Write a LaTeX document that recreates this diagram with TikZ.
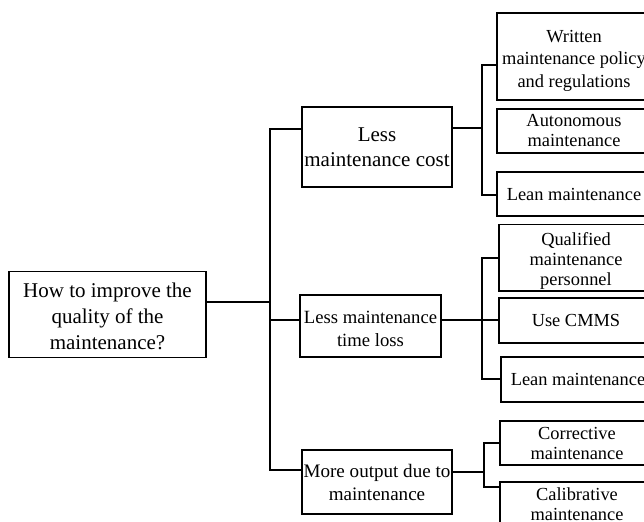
\documentclass[tikz,border=0pt]{standalone}
\usepackage{fontspec}
\setmainfont{Liberation Serif}
\newcommand{\upstrut}[1]{\rule{0pt}{#1}}
\begin{document}
\begin{tikzpicture}[x=0.75pt,y=-0.75pt,
  box/.style={draw,line width=1pt,inner sep=0pt,align=center},
  leaf/.style={box,minimum width=115.5pt,font={\fontsize{13.8}{15}\selectfont}},
  conn/.style={line width=1.5pt}]
\useasboundingbox (0,0) rectangle (644,522);
\clip (0,0) rectangle (644,522);
% nodes
\node[box,font={\fontsize{15.75}{19.5}\selectfont},minimum width=147.75pt,minimum height=64.5pt] (root) at (107.5,314.5) {\upstrut{13pt}How to improve the\\quality of the\\maintenance?};
\node[box,font={\fontsize{15.75}{18.75}\selectfont},minimum width=112.5pt,minimum height=60pt] (cost) at (377,147) {Less\\maintenance cost};
\node[box,font={\fontsize{14}{17.25}\selectfont},minimum width=105.75pt,minimum height=46.5pt] (time) at (370.5,326) {\upstrut{14pt}Less maintenance\\time loss};
\node[box,font={\fontsize{14.3}{17.25}\selectfont},minimum width=112.5pt,minimum height=48pt] (more) at (377,482) {More output due to\\maintenance};
\node[leaf,font={\fontsize{13.8}{16.9}\selectfont},minimum height=65.25pt] (written) at (574,56.5) {\upstrut{15.4pt}Written\\maintenance policy\\and regulations};
\node[leaf,minimum height=33pt] (auto) at (574,131) {Autonomous\\maintenance};
\node[leaf,minimum height=33pt] (lean1) at (574,194) {Lean maintenance};
\node[leaf,minimum height=50pt] (qual) at (576,257.5) {\upstrut{15.4pt}Qualified\\maintenance\\personnel};
\node[leaf,minimum height=33.75pt] (cmms) at (576,320.5) {Use CMMS};
\node[leaf,minimum height=33.75pt] (lean2) at (578,379.5) {Lean maintenance};
\node[leaf,minimum height=33pt] (corr) at (577,443) {Corrective\\maintenance};
\node[leaf,minimum height=33pt] (cali) at (577,504) {Calibrative\\maintenance};
% trunk
\coordinate (tr) at (270,302);
\coordinate (ta) at (270,129);
\coordinate (tb) at (270,320);
\coordinate (tc) at (270,470);
\draw[conn] (tr -| root.east) -- (tr);
\draw[conn] (ta -| cost.west) -- (ta) -- (tc) -- (tc -| more.west);
\draw[conn] (tb) -- (tb -| time.west);
% top group
\coordinate (ba) at (482,65);
\coordinate (bb) at (482,128);
\coordinate (bc) at (482,195);
\draw[conn] (ba -| written.west) -- (ba) -- (bc) -- (bc -| lean1.west);
\draw[conn] (bb -| cost.east) -- (bb);
% middle group
\coordinate (ma) at (482,258);
\coordinate (mb) at (482,320);
\coordinate (mc) at (482,379);
\draw[conn] (ma -| qual.west) -- (ma) -- (mc) -- (mc -| lean2.west);
\draw[conn] (mb -| time.east) -- (mb -| cmms.west);
% bottom group
\coordinate (ca) at (484,443);
\coordinate (cb) at (484,472);
\coordinate (cc) at (484,487);
\draw[conn] (ca -| corr.west) -- (ca) -- (cc) -- (cc -| cali.west);
\draw[conn] (cb -| more.east) -- (cb);
\end{tikzpicture}
\end{document}
